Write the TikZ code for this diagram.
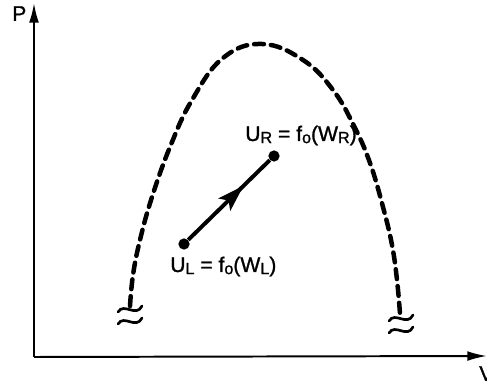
\documentclass[tikz,border=0pt]{standalone}
\usepackage{fontspec}
\usepackage{tikz}
\usetikzlibrary{arrows.meta,decorations.markings}
\newfontfamily\lblfont[FakeBold=1.2]{Liberation Sans}
\newcommand\lowsub[1]{\raisebox{-1.5pt}{\fontsize{11.5}{13}\selectfont #1}}

\begin{document}
\begin{tikzpicture}[x=0.025cm, y=-0.025cm, >=Stealth,
    axis/.style={line width=1.4pt, -{Latex[length=14pt,width=7pt]}},
    arch/.style={line width=3.2pt, line cap=round, dash pattern=on 7pt off 5pt},
    dot/.style={circle, fill=black, inner sep=0pt, minimum size=8pt},
    lbl/.style={font=\lblfont\fontsize{15}{18}\selectfont, inner sep=0pt},
    move/.style={line width=2.8pt, postaction={decorate},
        decoration={markings, mark=at position 0.68 with {\arrow{Stealth[length=19pt,width=12pt,inset=4pt]}}}},
    brk/.pic={
        \draw[line width=1.9pt, line cap=round] (-12,3) .. controls (-6,-7) and (6,9) .. (12,-3);
        \draw[line width=1.9pt, line cap=round] (-12,15) .. controls (-6,5) and (6,21) .. (12,9);
    }]
    \useasboundingbox (0,0) rectangle (487,385);

    % axes
    \coordinate (origin) at (34,357);
    \coordinate (ptop) at (34,3);
    \coordinate (vend) at (487,356);
    \draw[axis] (origin) -- (ptop);
    \draw[axis] (origin) -- (vend);
    \node[lbl, anchor=north west] (plab) at (12,6) {P};
    \node[lbl, anchor=north west] (vlab) at (479,366) {V};

    % dashed arch with breaks
    \draw[arch] plot[smooth, tension=0.7] coordinates {(130,306) (133,275) (140,240) (152,197)
        (170,147) (192,100) (223,58) (262,44) (303,60) (333,90) (354,126) (370,163)
        (383,207) (392,245) (397,280) (400,314)};
    \pic at (130,309) {brk};
    \pic at (401,318) {brk};

    % states
    \node[dot] (uL) at (184,244) {};
    \node[dot] (uR) at (274,156) {};
    \draw[move] (uL) -- (uR);
    \node[lbl, anchor=base west] (labL) at (170,272)
        {U\lowsub{L} = f\lowsub{o}(W\lowsub{L})};
    \node[lbl, anchor=base west] (labR) at (245,141)
        {U\lowsub{R} = f\lowsub{o}(W\lowsub{R})};
\end{tikzpicture}
\end{document}
